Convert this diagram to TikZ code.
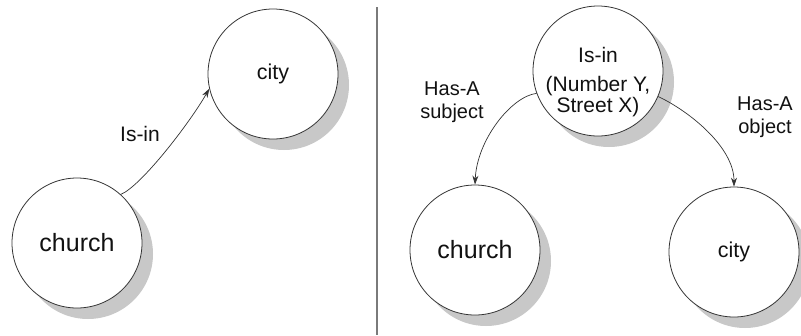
\documentclass[tikz,border=0pt]{standalone}
\usepackage{fontspec}
\setmainfont{Liberation Sans}
\usetikzlibrary{arrows.meta,shadows}
\definecolor{shade}{HTML}{C8C8C8}
\definecolor{linecol}{HTML}{333333}
\definecolor{txt}{HTML}{111111}
\definecolor{divcol}{HTML}{7A7A7A}
\tikzset{
  concept/.style={circle, draw=linecol, line width=0.8pt, fill=white, minimum size=130pt, inner sep=0pt,
    text=txt, general shadow={fill=shade, shadow xshift=11pt, shadow yshift=-11pt}},
  bigtxt/.style={font=\fontsize{25}{29}\selectfont},
  midtxt/.style={font=\fontsize{21.5}{25}\selectfont},
  lbl/.style={text=txt, align=center, font=\fontsize{20}{23}\selectfont, inner sep=0pt},
  rel/.style={draw=linecol, line width=0.7pt, -{Stealth[length=9pt,width=6pt]}}
}
\begin{document}
\begin{tikzpicture}[x=1pt,y=-1pt]
\useasboundingbox (0,0) rectangle (801,335);
% divider
\draw[divcol, line width=1.4pt] (377,7) coordinate (dtop) -- (377,335) coordinate (dbot);
% left part
\node[concept, bigtxt] (ch1) at (77,243) {church};
\node[concept, midtxt] (ci1) at (273,74) {city};
\draw[rel] (ch1.48) .. controls +(20,-8) and +(-20,35) .. (ci1.193);
\node[lbl, font=\fontsize{21}{24}\selectfont] (isin1) at (140,134) {Is-in};
% right part
\node[concept] (rel2) at (598,71) {};
\node[lbl, font=\fontsize{21}{21}\selectfont, align=center] (rel2txt) at (598,82) {Is-in\\[8pt](Number Y,\\Street X)};
\node[concept, bigtxt] (ch2) at (475,250) {church};
\node[concept, midtxt] (ci2) at (734,252) {city};
\draw[rel] (rel2.200) .. controls +(-25,3) and +(2,-45) .. (ch2.90);
\draw[rel] (rel2.337) .. controls +(30,14) and +(0,-40) .. (ci2.90);
\node[lbl] (hs) at (452,102) {Has-A\\subject};
\node[lbl] (ho) at (765,117) {Has-A\\object};
\end{tikzpicture}
\end{document}
